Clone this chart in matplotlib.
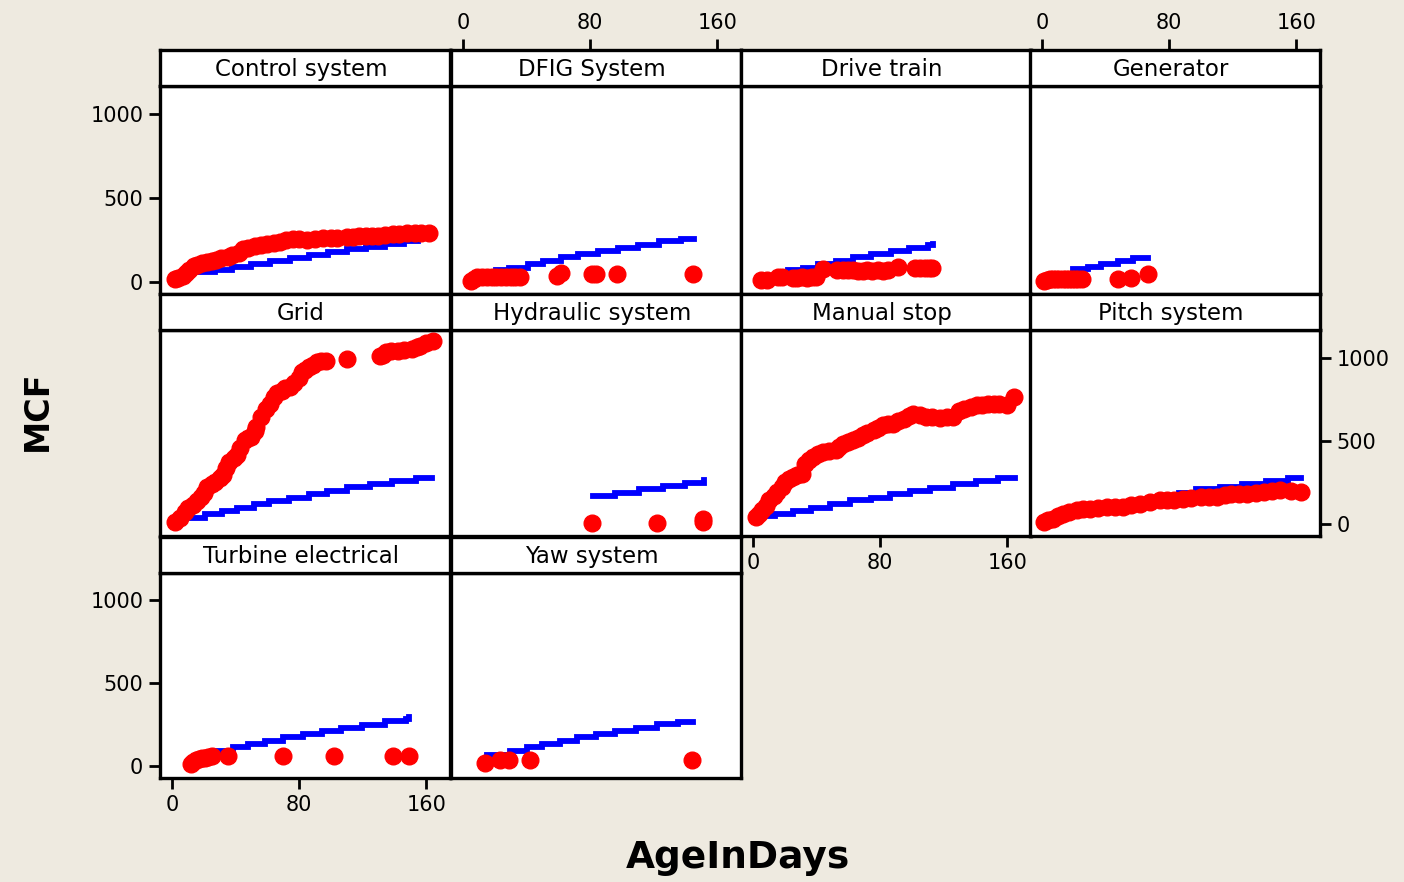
import matplotlib
matplotlib.use('Agg')
import matplotlib.pyplot as plt

# ---------------- data ----------------
panel_names = ['Control system', 'DFIG System', 'Drive train', 'Generator',
               'Grid', 'Hydraulic system', 'Manual stop', 'Pitch system',
               'Turbine electrical', 'Yaw system']

x_ticks = [0, 80, 160]
y_ticks = [0, 500, 1000]

# observed MCF (red points): AgeInDays, MCF
control_x = [2, 4, 7, 9, 11, 14, 16, 19, 22, 25, 28, 31, 35, 38, 42, 45, 48, 52, 56, 60, 64,
             68, 72, 76, 80, 85, 90, 95, 100, 104, 110, 114, 118, 122, 126, 130, 134, 139,
             143, 148, 153, 157, 162]
control_y = [20, 25, 35, 55, 75, 95, 105, 112, 118, 126, 134, 142, 150, 160, 175, 195, 205,
             215, 222, 228, 235, 240, 248, 255, 255, 250, 258, 262, 265, 265, 266, 270, 272,
             274, 275, 276, 280, 285, 288, 292, 292, 295, 295]

dfig_x = [5, 7, 9, 12, 15, 18, 21, 24, 27, 30, 33, 36, 59, 62, 81, 84, 97, 145]
dfig_y = [10, 18, 28, 28, 28, 30, 30, 30, 30, 30, 30, 30, 35, 52, 48, 48, 46, 46]

drive_x = [5, 9, 16, 18, 25, 28, 31, 34, 37, 40, 44, 53, 57, 60, 63, 66, 69, 72, 75, 79, 82,
           85, 91, 102, 105, 108, 111, 113]
drive_y = [12, 16, 28, 30, 24, 26, 28, 26, 28, 30, 80, 72, 72, 70, 72, 68, 68, 70, 68, 70, 68,
           70, 88, 86, 86, 86, 86, 86]

gen_x = [1, 3, 5, 7, 9, 11, 13, 15, 17, 19, 21, 23, 25, 48, 56, 67]
gen_y = [6, 14, 18, 20, 20, 22, 22, 22, 22, 22, 22, 22, 22, 22, 24, 46]

grid_x = [2, 5, 8, 10, 13, 16, 18, 20, 22, 25, 27, 30, 32, 34, 36, 39, 41, 43, 46, 48, 50, 52,
          53, 56, 59, 62, 64, 66, 69, 71, 74, 77, 80, 82, 84, 86, 89, 91, 94, 97, 110, 131,
          133, 135, 138, 142, 146, 151, 154, 156, 160, 164]
grid_y = [14, 40, 74, 95, 114, 140, 163, 190, 223, 240, 253, 275, 293, 335, 373, 400, 413, 460,
          503, 515, 523, 560, 583, 643, 693, 720, 763, 785, 802, 815, 822, 845, 880, 912, 925,
          942, 958, 972, 978, 982, 992, 1012, 1018, 1032, 1040, 1042, 1048, 1052, 1065, 1072,
          1090, 1102]

hyd_x = [81, 122, 151, 151]
hyd_y = [6, 6, 14, 32]

manual_x = [2, 4, 6, 8, 10, 13, 15, 18, 20, 23, 25, 28, 31, 33, 35, 38, 41, 44, 48, 52, 54, 57,
            60, 63, 66, 69, 72, 76, 79, 82, 85, 88, 91, 95, 98, 101, 105, 109, 113, 118, 122,
            126, 130, 133, 137, 141, 144, 148, 152, 155, 160, 164]
manual_y = [44, 60, 84, 110, 144, 170, 194, 225, 253, 270, 283, 295, 303, 363, 385, 403, 420,
            433, 440, 443, 465, 483, 493, 503, 515, 533, 548, 563, 578, 593, 600, 603, 618, 633,
            648, 663, 655, 643, 643, 640, 643, 643, 680, 693, 705, 713, 718, 723, 723, 723, 713,
            763]

pitch_x = [1, 4, 7, 10, 13, 17, 22, 26, 30, 35, 41, 46, 51, 56, 62, 68, 74, 79, 83, 89, 94,
           100, 105, 110, 115, 119, 124, 129, 135, 140, 145, 150, 157, 163]
pitch_y = [14, 24, 34, 50, 64, 75, 84, 90, 94, 100, 104, 104, 104, 115, 124, 135, 144, 144,
           144, 154, 160, 164, 164, 164, 175, 184, 184, 184, 190, 194, 200, 204, 200, 194]

turb_x = [12, 13.5, 15, 17, 19, 21, 23, 25, 35, 70, 102, 139, 149]
turb_y = [15, 28, 38, 45, 48, 50, 55, 62, 60, 60, 60, 60, 60]

yaw_x = [14, 23.5, 29, 42, 144]
yaw_y = [20, 40, 40, 40, 40]

# fitted MCF (blue step lines): step start days, MCF level (last pair = end)
control_fx = [16, 27, 38, 50, 62, 74, 86, 98, 110, 122, 134, 146, 155]
control_fy = [60, 75, 92, 110, 128, 145, 160, 178, 195, 212, 228, 245, 262]

dfig_fx = [20.8, 29.2, 40.8, 50.2, 61.7, 72.3, 84.9, 97.4, 110, 123.7, 137.3, 145.7]
dfig_fy = [71, 85, 107, 127, 147, 165, 185, 202, 222, 242, 256, 256]

drive_fx = [21.8, 31.3, 40.8, 52.3, 62.8, 74.3, 86.9, 98.5, 110, 113.2]
drive_fy = [71, 87, 107, 127, 147, 165, 185, 204, 220, 228]

gen_fx = [19.5, 29, 37.4, 48, 57.5, 67]
gen_fy = [81, 91, 107, 125, 145, 145]

grid_fx = [12.6, 21, 31.5, 41, 51.5, 60.9, 73.5, 86.1, 97.6, 110.2, 124.9, 138.6, 153.3, 163.8]
grid_fy = [40, 60, 78, 98, 120, 140, 160, 181, 202, 223, 244, 260, 277, 277]

hyd_fx = [82, 96, 111, 126, 140, 152]
hyd_fy = [170, 190, 210, 230, 250, 268]

manual_fx = [6.3, 13.6, 25.2, 36.7, 48.3, 60.9, 74.5, 86.1, 98.7, 111.3, 126, 140.7, 154.3, 164.8]
manual_fy = [48, 60, 78, 100, 120, 144, 160, 180, 198, 220, 240, 260, 277, 277]

pitch_fx = [5, 14, 25, 37, 48, 61, 74, 86, 97, 112, 126, 141, 155, 163]
pitch_fy = [45, 60, 78, 100, 120, 140, 160, 185, 210, 225, 242, 258, 277, 277]

turb_fx = [25.3, 38.5, 48.1, 58.8, 69.6, 82.8, 94.7, 106.7, 119.9, 134.2, 147.4, 149.3]
turb_fy = [95, 115, 135, 155, 174, 194, 214, 230, 250, 271, 287, 295]

yaw_fx = [15.1, 29.6, 40.4, 50, 60.8, 71.7, 83.7, 95.7, 109, 122.2, 135.5, 145.1]
yaw_fy = [69, 95, 115, 135, 155, 174, 194, 214, 234, 253, 267, 267]

obs = [(control_x, control_y), (dfig_x, dfig_y), (drive_x, drive_y), (gen_x, gen_y),
       (grid_x, grid_y), (hyd_x, hyd_y), (manual_x, manual_y), (pitch_x, pitch_y),
       (turb_x, turb_y), (yaw_x, yaw_y)]
fit = [(control_fx, control_fy), (dfig_fx, dfig_fy), (drive_fx, drive_fy), (gen_fx, gen_fy),
       (grid_fx, grid_fy), (hyd_fx, hyd_fy), (manual_fx, manual_fy), (pitch_fx, pitch_fy),
       (turb_fx, turb_fy), (yaw_fx, yaw_fy)]

# ---------------- layout ----------------
W, H = 1404, 882
BG = '#EEEAE0'
XLIM = (-7.5, 175)
YLIM = (-70, 1165)
col_left = [160, 451, 741, 1030]
col_w = 290
strip_top = [50, 294, 537]
strip_h = 36
plot_h = [208, 206, 205]
LW = 2.4
TICK_FS = 15

plt.rcParams['font.family'] = ['DejaVu Sans']
fig = plt.figure(figsize=(W / 100, H / 100), dpi=100, facecolor=BG)


def add_px_axes(x, y, w, h):
    return fig.add_axes([x / W, 1 - (y + h) / H, w / W, h / H])


for i, name in enumerate(panel_names):
    r, c = divmod(i, 4)
    x = col_left[c]
    st = strip_top[r]
    ax = add_px_axes(x, st + strip_h, col_w, plot_h[r])
    sax = add_px_axes(x, st, col_w, strip_h)
    for a in (ax, sax):
        a.set_facecolor('white')
        a.set_xlim(*XLIM)
        for s in a.spines.values():
            s.set_linewidth(LW)
            s.set_color('black')
        a.tick_params(which='both', left=False, right=False, top=False, bottom=False,
                      labelleft=False, labelright=False, labeltop=False, labelbottom=False)
    ax.set_ylim(*YLIM)
    sax.set_ylim(0, 1)
    sax.set_yticks([])
    sax.text(0.486, 0.47, name, transform=sax.transAxes, ha='center', va='center',
             fontsize=16.5, color='black')

    fx, fy = fit[i]
    ax.plot(fx, fy, drawstyle='steps-post', color='#0000FF', lw=4.2,
            solid_capstyle='projecting', solid_joinstyle='miter', zorder=2)
    ox, oy = obs[i]
    ax.plot(ox, oy, 'o', color='#FF0000', ms=12, mec='#FF0000', zorder=3, clip_on=True)

    ax.set_xticks(x_ticks)
    ax.set_yticks(y_ticks)
    sax.set_xticks(x_ticks)
    tick_kw = dict(length=8, width=2.0, direction='out', labelsize=TICK_FS, pad=4, color='black')

    if name in ('Control system', 'Turbine electrical'):
        ax.tick_params(axis='y', left=True, labelleft=True, **tick_kw)
    if name == 'Pitch system':
        ax.tick_params(axis='y', right=True, labelright=True, **tick_kw)
    if name in ('Turbine electrical', 'Manual stop'):
        ax.tick_params(axis='x', bottom=True, labelbottom=True, **tick_kw)
    if name in ('DFIG System', 'Generator'):
        sax.tick_params(axis='x', top=True, labeltop=True, **tick_kw)

fig.text(738 / W, 1 - 858 / H, 'AgeInDays', ha='center', va='center',
         fontsize=27, fontweight='bold')
fig.text(37 / W, 1 - 411 / H, 'MCF', ha='center', va='center', rotation=90,
         fontsize=24, fontweight='bold')

fig.savefig('out.png', dpi=100, facecolor=BG)
